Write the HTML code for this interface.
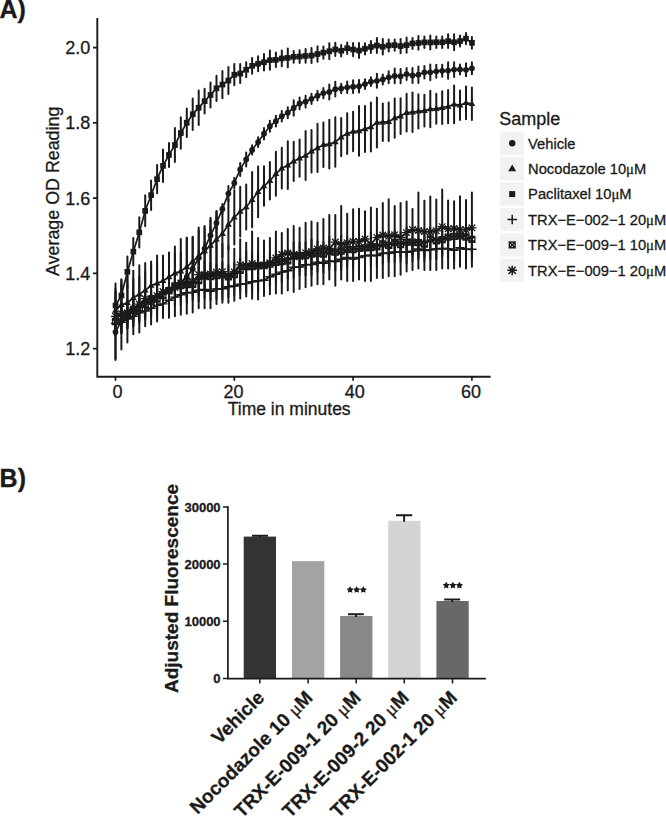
<!DOCTYPE html>
<html><head><meta charset="utf-8"><style>
html,body{margin:0;padding:0;background:#fff;}
svg{display:block;}
text{font-family:"Liberation Sans",sans-serif;fill:#1a1a1a;stroke:#1a1a1a;stroke-width:0.3px;}
.tk{font-size:18px;}
.ti{font-size:17.5px;}
.lt{font-size:18px;}
.lg{font-size:14.7px;}
.mu{font-family:"Liberation Serif",serif;}
.bmu{font-family:"Liberation Serif",serif;font-weight:normal;}
.pl{font-size:25px;font-weight:bold;}
.bt{font-size:13px;font-weight:bold;}
.bl{font-size:19px;font-weight:bold;}
.xl{font-size:19px;font-weight:bold;}
.st{font-size:14px;font-weight:bold;}
</style></head><body>
<svg width="666" height="817" viewBox="0 0 666 817">
<rect width="666" height="817" fill="#fff"/>
<text x="-0.5" y="17.6" class="pl">A)</text>
<text x="-0.4" y="486.6" class="pl">B)</text>
<path d="M97.3 18V377.7M96.4 376.8H490.6" stroke="#1a1a1a" stroke-width="1.9" fill="none"/>
<path d="M93 47.7H97M93 122.9H97M93 198.1H97M93 273.4H97M93 348.6H97" stroke="#1a1a1a" stroke-width="1.7" fill="none"/>
<text x="90.4" y="54.1" text-anchor="end" class="tk">2.0</text>
<text x="90.4" y="129.3" text-anchor="end" class="tk">1.8</text>
<text x="90.4" y="204.5" text-anchor="end" class="tk">1.6</text>
<text x="90.4" y="279.8" text-anchor="end" class="tk">1.4</text>
<text x="90.4" y="355" text-anchor="end" class="tk">1.2</text>
<path d="M115.5 377V380.8M234.3 377V380.8M353.1 377V380.8M471.9 377V380.8" stroke="#1a1a1a" stroke-width="1.7" fill="none"/>
<text x="117.4" y="397.6" text-anchor="middle" class="tk">0</text>
<text x="233.5" y="397.6" text-anchor="middle" class="tk">20</text>
<text x="354.7" y="397.6" text-anchor="middle" class="tk">40</text>
<text x="471" y="397.6" text-anchor="middle" class="tk">60</text>
<text x="289.2" y="414.7" text-anchor="middle" class="ti">Time in minutes</text>
<text transform="translate(59.1 191.3) rotate(-90)" text-anchor="middle" class="ti" style="font-size:17.85px">Average OD Reading</text>
<path d="M115.5 314.1V332.9M121.4 312.5V332.2M127.4 309.7V328.4M133.3 305.9V326.5M139.3 303.1V322.7M145.2 302.9V319.2M151.1 299.4V317M157.1 294.1V316.7M163 294.7V313.1M169 290.2V310.3M174.9 288.9V305.3M180.8 284.7V304.9M186.8 282.6V302.9M192.7 284.3V300.5M198.7 279.2V301.3M204.6 280.5V298.5M210.5 282.4V300M216.5 278.8V298.9M222.4 277.8V299.8M228.4 276V297.3M234.3 276.3V295.6M240.2 276.6V292M246.2 274.2V292.9M252.1 272V291.7M258.1 270.1V291.5M264 271.9V288.5M269.9 267.5V286.1M275.9 264.3V284.2M281.8 262V282.2M287.8 263.1V278.5M293.7 256.4V278M299.6 259.1V275M305.6 253.9V275.3M311.5 253.9V275.4M317.5 252.2V271.9M323.4 253.7V272.8M329.3 252.2V269.8M335.3 252.6V270.5M341.2 248.3V270.3M347.2 247.5V267.5M353.1 249.7V268.2M359 248.6V266.3M365 244.5V267M370.9 244.3V266.4M376.9 244.6V266.6M382.8 242.1V264.1M388.7 244.5V262.2M394.7 241.2V262.5M400.6 241.9V262.1M406.6 241.5V263.4M412.5 240.8V261.4M418.4 238.3V259.6M424.4 240V261.1M430.3 240V259.4M436.3 238.7V259M442.2 240.7V256.3M448.1 239.7V257.6M454.1 239.9V261M460 239.9V255.6M466 240.7V258.2M471.9 239.4V259.2" stroke="#1a1a1a" stroke-width="2.0" stroke-linecap="round" fill="none"/>
<path d="M115.5 307.4V335.5M121.4 303V333.3M127.4 302V328.1M133.3 295.6V325.6M139.3 296.1V321.6M145.2 291.5V317.8M151.1 289.1V313.6M157.1 287.5V310.6M163 280.4V310.9M169 276.8V304.3M174.9 274V297.9M180.8 272.2V298.9M186.8 271.8V297.2M192.7 273.6V295.1M198.7 266.5V294.9M204.6 260.9V291.1M210.5 262.9V290.4M216.5 264.4V287M222.4 262V287.5M228.4 265.2V288.4M234.3 263.1V286M240.2 258.2V282.4M246.2 251.5V282M252.1 251.7V281.7M258.1 251.2V280.6M264 249.9V280.7M269.9 253V275.2M275.9 250.7V274.1M281.8 250.9V272.5M287.8 250.3V271.4M293.7 242.2V270M299.6 242.6V268M305.6 242.1V269.1M311.5 239V269.2M317.5 241.3V265.4M323.4 242.4V266M329.3 236.6V266.3M335.3 241.5V262.8M341.2 235.6V266.4M347.2 236.9V261.6M353.1 238.9V260.4M359 236.7V260M365 236.9V258.8M370.9 232.6V262.6M376.9 236V257.7M382.8 233.1V254.7M388.7 231.6V259.1M394.7 230.9V254.1M400.6 232.3V256.9M406.6 227.5V256.8M412.5 229.4V255M418.4 228.3V257M424.4 232.2V256.3M430.3 227.6V250M436.3 230V251.8M442.2 224.6V254.5M448.1 226V248.4M454.1 225.5V247.4M460 224.5V247.2M466 223.7V250.3M471.9 225.2V253.5" stroke="#1a1a1a" stroke-width="2.0" stroke-linecap="round" fill="none"/>
<path d="M115.5 283.6V359.9M121.4 280.1V349.4M127.4 275.8V342.5M133.3 270.8V334.3M139.3 265.3V332.6M145.2 263.1V326.2M151.1 261.6V324.4M157.1 255.6V321.5M163 255.6V318M169 252.6V317.8M174.9 246.6V316.2M180.8 239.1V314.8M186.8 237.8V313.7M192.7 236.8V312.5M198.7 230.2V308.2M204.6 226V308.2M210.5 220V308.2M216.5 211.6V303.9M222.4 243.8V302.7M228.4 245.8V302.7M234.3 248.8V300.8M240.2 239.2V298.4M246.2 242.8V296.6M252.1 231.6V298.7M258.1 238V299.6M264 240.6V296M269.9 238V294.2M275.9 231.6V293.6M281.8 232.9V293.6M287.8 229.1V290.5M293.7 226V292M299.6 227.8V288.9M305.6 222.7V287.3M311.5 221.4V285.7M317.5 222.7V284.2M323.4 218.9V284.2M329.3 215V279.4M335.3 215V285.7M341.2 206.1V279.4M347.2 213.8V281M353.1 209.2V281M359 208.7V279.4M365 211.2V281M370.9 207.4V281M376.9 208.7V277.9M382.8 203.1V277.9M388.7 199.3V276.2M394.7 206.1V276.2M400.6 203.1V274.7M406.6 201.6V271.5M412.5 209.1V270M418.4 192.6V268.4M424.4 200.8V270M430.3 196.6V270M436.3 199.6V270M442.2 189.6V268.4M448.1 200.4V268.4M454.1 201.3V268.4M460 196.3V266.8M466 200.1V268.4M471.9 192.6V266.8" stroke="#1a1a1a" stroke-width="2.0" stroke-linecap="round" fill="none"/>
<path d="M115.5 291.7V329.3M121.4 284.7V325.2M127.4 284.9V320.7M133.3 278.4V317.2M139.3 276.9V311.6M145.2 271.9V308.9M151.1 264.6V306.6M157.1 263.1V303.4M163 262.7V298.7M169 259.5V294.6M174.9 253.9V292.6M180.8 252.4V289.8M186.8 237.7V296.3M192.7 237.3V285.3M198.7 227.6V285.2M204.6 227.4V274.5M210.5 217.7V273.5M216.5 210.9V267.7M222.4 210.6V256.9M228.4 199.3V249.6M234.3 190.2V244.6M240.2 186.7V236.5M246.2 184.5V229.6M252.1 172V227.3M258.1 166.4V217.3M264 166.3V205.8M269.9 161.9V199.6M275.9 151.8V195.7M281.8 147.7V188.6M287.8 141.3V189M293.7 141.7V180.9M299.6 139.5V176.8M305.6 131.1V180.1M311.5 130V172.6M317.5 123.8V172.1M323.4 122.6V167.1M329.3 119.8V168.4M335.3 117.3V166.7M341.2 118.1V156.2M347.2 113.2V153.9M353.1 111.8V151.3M359 106.1V155.7M365 105.9V152M370.9 102.4V151.6M376.9 97.5V147.5M382.8 103.4V141M388.7 102.5V141M394.7 98.5V137.7M400.6 98.3V134M406.6 93.7V131.6M412.5 92.5V132M418.4 94.2V128.5M424.4 94.8V126.5M430.3 90.8V127.2M436.3 93.8V123.7M442.2 91.3V123.9M448.1 89.9V123.2M454.1 85.5V123.2M460 90.4V120.1M466 86.5V119.2M471.9 87.5V120.1" stroke="#1a1a1a" stroke-width="2.0" stroke-linecap="round" fill="none"/>
<path d="M115.5 305.7V358.4M121.4 308.1V333.5M127.4 299.9V325.9M133.3 293.5V322.3M139.3 298.4V313M145.2 296.7V307.1M151.1 291.5V303.3M157.1 289.9V301.7M163 286.4V298.4M169 283.4V295M174.9 279.2V293.4M180.8 277.2V287M186.8 270.9V283M192.7 264.2V273.5M198.7 250.4V265.1M204.6 242.8V254.3M210.5 227.6V243.2M216.5 216.4V229.6M222.4 204.1V214M228.4 186.1V201.2M234.3 177.7V188.3M240.2 162.9V176M246.2 152.5V166.5M252.1 145.3V154.4M258.1 137.2V147M264 128V139.5M269.9 120.7V131.7M275.9 115.8V126.5M281.8 111V121.4M287.8 107.2V118.2M293.7 100.3V115.8M299.6 97.5V109.3M305.6 95.8V107.5M311.5 93.7V103.9M317.5 90.8V100.6M323.4 88V98.2M329.3 84.6V99.5M335.3 81.8V96.6M341.2 83.7V93.3M347.2 81.6V92.9M353.1 80.3V93M359 80V92.4M365 79.2V89M370.9 77.3V86.1M376.9 73.7V87.8M382.8 74.6V84.5M388.7 71.3V83.3M394.7 68.5V83.3M400.6 69.1V83.3M406.6 68.1V80.1M412.5 67.9V83M418.4 66.4V82.9M424.4 66V78.6M430.3 64.5V80.2M436.3 64.8V77.8M442.2 64.8V76.8M448.1 62.3V78.8M454.1 62.2V77M460 64.4V74.4M466 63.2V76.3M471.9 62.3V74.2" stroke="#1a1a1a" stroke-width="2.0" stroke-linecap="round" fill="none"/>
<path d="M115.5 288.9V322.1M121.4 279.3V311.5M127.4 256.5V287.2M133.3 237.9V265.5M139.3 217.2V247.6M145.2 195.3V226.3M151.1 180.4V210M157.1 165V193.2M163 149.6V182.1M169 142.9V167M174.9 128.1V162M180.8 117.3V148.8M186.8 108.6V137M192.7 98.4V130M198.7 90.5V125M204.6 88.8V113.6M210.5 82.5V107.4M216.5 75.7V100.9M222.4 71V98.2M228.4 67.1V94M234.3 64.1V85.3M240.2 64.1V82.9M246.2 62.2V77.3M252.1 58.1V73.7M258.1 56.3V71.2M264 54.1V70.4M269.9 50.4V69.8M275.9 52.6V67.1M281.8 50.6V66.3M287.8 48.5V67.2M293.7 51.1V62.7M299.6 50.2V62.9M305.6 49V62.8M311.5 48V63M317.5 46.3V61.8M323.4 46.5V58.8M329.3 43.2V59.2M335.3 42.8V56M341.2 45V56.5M347.2 42.4V54.1M353.1 43V56.2M359 42.9V58.1M365 43.2V54.4M370.9 41V53M376.9 37.9V53.1M382.8 39.1V54.4M388.7 39.5V51.5M394.7 39.6V50.8M400.6 38.9V53.2M406.6 37.6V52.8M412.5 37.9V49M418.4 36.1V49.8M424.4 36.5V48.1M430.3 35.4V49.5M436.3 36.5V48M442.2 36.5V48M448.1 34.3V48M454.1 34.3V50.2M460 35.5V46.5M466 33V44.3M471.9 36.9V48.8" stroke="#1a1a1a" stroke-width="2.0" stroke-linecap="round" fill="none"/>
<path d="M115.5 323.5 L121.4 322.4 L127.4 319 L133.3 316.2 L139.3 312.9 L145.2 311 L151.1 308.2 L157.1 305.4 L163 303.9 L169 300.3 L174.9 297.1 L180.8 294.8 L186.8 292.8 L192.7 292.4 L198.7 290.2 L204.6 289.5 L210.5 291.2 L216.5 288.9 L222.4 288.8 L228.4 286.7 L234.3 286 L240.2 284.3 L246.2 283.6 L252.1 281.8 L258.1 280.8 L264 280.2 L269.9 276.8 L275.9 274.3 L281.8 272.1 L287.8 270.8 L293.7 267.2 L299.6 267.1 L305.6 264.6 L311.5 264.6 L317.5 262.1 L323.4 263.3 L329.3 261 L335.3 261.6 L341.2 259.3 L347.2 257.5 L353.1 259 L359 257.5 L365 255.7 L370.9 255.3 L376.9 255.6 L382.8 253.1 L388.7 253.3 L394.7 251.9 L400.6 252 L406.6 252.4 L412.5 251.1 L418.4 249 L424.4 250.5 L430.3 249.7 L436.3 248.9 L442.2 248.5 L448.1 248.7 L454.1 250.4 L460 247.7 L466 249.4 L471.9 249.3" stroke="#1a1a1a" stroke-width="1.7" fill="none" stroke-linejoin="round"/>
<path d="M115.5 321.5 L121.4 318.2 L127.4 315 L133.3 310.6 L139.3 308.9 L145.2 304.6 L151.1 301.4 L157.1 299.1 L163 295.7 L169 290.6 L174.9 285.9 L180.8 285.5 L186.8 284.5 L192.7 284.3 L198.7 280.7 L204.6 276 L210.5 276.6 L216.5 275.7 L222.4 274.8 L228.4 276.8 L234.3 274.6 L240.2 270.3 L246.2 266.7 L252.1 266.7 L258.1 265.9 L264 265.3 L269.9 264.1 L275.9 262.4 L281.8 261.7 L287.8 260.8 L293.7 256.1 L299.6 255.3 L305.6 255.6 L311.5 254.1 L317.5 253.4 L323.4 254.2 L329.3 251.5 L335.3 252.1 L341.2 251 L347.2 249.3 L353.1 249.6 L359 248.3 L365 247.9 L370.9 247.6 L376.9 246.8 L382.8 243.9 L388.7 245.4 L394.7 242.5 L400.6 244.6 L406.6 242.1 L412.5 242.2 L418.4 242.7 L424.4 244.2 L430.3 238.8 L436.3 240.9 L442.2 239.6 L448.1 237.2 L454.1 236.4 L460 235.8 L466 237 L471.9 239.3" stroke="#1a1a1a" stroke-width="1.7" fill="none" stroke-linejoin="round"/>
<path d="M115.5 316.3 L121.4 313.7 L127.4 312.7 L133.3 309.3 L139.3 304.1 L145.2 298.7 L151.1 299.5 L157.1 295.7 L163 291.6 L169 291 L174.9 287.5 L180.8 283 L186.8 281.7 L192.7 281.5 L198.7 274.6 L204.6 274.8 L210.5 274 L216.5 272.1 L222.4 271.7 L228.4 276.1 L234.3 272 L240.2 264.9 L246.2 265.7 L252.1 263.5 L258.1 265 L264 266 L269.9 262.8 L275.9 258 L281.8 254.7 L287.8 253 L293.7 254.5 L299.6 256.8 L305.6 252.7 L311.5 251.6 L317.5 249 L323.4 248 L329.3 248.5 L335.3 242.1 L341.2 244.5 L347.2 242.8 L353.1 241.7 L359 241.5 L365 239 L370.9 244 L376.9 237.7 L382.8 235 L388.7 236.3 L394.7 234.8 L400.6 237.4 L406.6 232.7 L412.5 229.6 L418.4 230.5 L424.4 231.5 L430.3 231.9 L436.3 230.8 L442.2 226.7 L448.1 228.8 L454.1 228.5 L460 229.5 L466 229.7 L471.9 227.8" stroke="#1a1a1a" stroke-width="1.7" fill="none" stroke-linejoin="round"/>
<path d="M115.5 310.5 L121.4 304.9 L127.4 302.8 L133.3 297.8 L139.3 294.3 L145.2 290.4 L151.1 285.6 L157.1 283.2 L163 280.7 L169 277 L174.9 273.2 L180.8 271.1 L186.8 267 L192.7 261.3 L198.7 256.4 L204.6 250.9 L210.5 245.6 L216.5 239.3 L222.4 233.7 L228.4 224.5 L234.3 217.4 L240.2 211.6 L246.2 207 L252.1 199.7 L258.1 191.9 L264 186.1 L269.9 180.8 L275.9 173.8 L281.8 168.2 L287.8 165.2 L293.7 161.3 L299.6 158.2 L305.6 155.6 L311.5 151.3 L317.5 148 L323.4 144.9 L329.3 144.1 L335.3 142 L341.2 137.1 L347.2 133.6 L353.1 131.5 L359 130.9 L365 128.9 L370.9 127 L376.9 122.5 L382.8 122.2 L388.7 121.7 L394.7 118.1 L400.6 116.1 L406.6 112.6 L412.5 112.2 L418.4 111.3 L424.4 110.6 L430.3 109 L436.3 108.7 L442.2 107.6 L448.1 106.5 L454.1 104.3 L460 105.2 L466 102.8 L471.9 103.8" stroke="#1a1a1a" stroke-width="1.7" fill="none" stroke-linejoin="round"/>
<path d="M115.5 332.1 L121.4 320.8 L127.4 312.9 L133.3 307.9 L139.3 305.7 L145.2 301.9 L151.1 297.4 L157.1 295.8 L163 292.4 L169 289.2 L174.9 286.3 L180.8 282.1 L186.8 276.9 L192.7 268.9 L198.7 257.8 L204.6 248.6 L210.5 235.4 L216.5 223 L222.4 209 L228.4 193.6 L234.3 183 L240.2 169.4 L246.2 159.5 L252.1 149.9 L258.1 142.1 L264 133.7 L269.9 126.2 L275.9 121.2 L281.8 116.2 L287.8 112.7 L293.7 108 L299.6 103.4 L305.6 101.7 L311.5 98.8 L317.5 95.7 L323.4 93.1 L329.3 92 L335.3 89.2 L341.2 88.5 L347.2 87.3 L353.1 86.7 L359 86.2 L365 84.1 L370.9 81.7 L376.9 80.8 L382.8 79.5 L388.7 77.3 L394.7 75.9 L400.6 76.2 L406.6 74.1 L412.5 75.4 L418.4 74.7 L424.4 72.3 L430.3 72.3 L436.3 71.3 L442.2 70.8 L448.1 70.6 L454.1 69.6 L460 69.4 L466 69.8 L471.9 68.3" stroke="#1a1a1a" stroke-width="1.7" fill="none" stroke-linejoin="round"/>
<path d="M115.5 305.5 L121.4 295.4 L127.4 271.9 L133.3 251.7 L139.3 232.4 L145.2 210.8 L151.1 195.2 L157.1 179.1 L163 165.9 L169 154.9 L174.9 145 L180.8 133.1 L186.8 122.8 L192.7 114.2 L198.7 107.7 L204.6 101.2 L210.5 94.9 L216.5 88.3 L222.4 84.6 L228.4 80.6 L234.3 74.7 L240.2 73.5 L246.2 69.7 L252.1 65.9 L258.1 63.8 L264 62.2 L269.9 60.1 L275.9 59.8 L281.8 58.4 L287.8 57.9 L293.7 56.9 L299.6 56.6 L305.6 55.9 L311.5 55.5 L317.5 54.1 L323.4 52.6 L329.3 51.2 L335.3 49.4 L341.2 50.7 L347.2 48.2 L353.1 49.6 L359 50.5 L365 48.8 L370.9 47 L376.9 45.5 L382.8 46.8 L388.7 45.5 L394.7 45.2 L400.6 46.1 L406.6 45.2 L412.5 43.4 L418.4 43 L424.4 42.3 L430.3 42.4 L436.3 42.3 L442.2 42.3 L448.1 41.1 L454.1 42.3 L460 41 L466 38.6 L471.9 42.9" stroke="#1a1a1a" stroke-width="1.7" fill="none" stroke-linejoin="round"/>
<g fill="#1a1a1a"><path d="M110.9 323.5h9.2M115.5 318.9v9.2" stroke="#1a1a1a" stroke-width="1.4" fill="none"/><path d="M116.8 322.4h9.2M121.4 317.8v9.2" stroke="#1a1a1a" stroke-width="1.4" fill="none"/><path d="M122.8 319h9.2M127.4 314.4v9.2" stroke="#1a1a1a" stroke-width="1.4" fill="none"/><path d="M128.7 316.2h9.2M133.3 311.6v9.2" stroke="#1a1a1a" stroke-width="1.4" fill="none"/><path d="M134.7 312.9h9.2M139.3 308.3v9.2" stroke="#1a1a1a" stroke-width="1.4" fill="none"/><path d="M140.6 311h9.2M145.2 306.4v9.2" stroke="#1a1a1a" stroke-width="1.4" fill="none"/><path d="M146.5 308.2h9.2M151.1 303.6v9.2" stroke="#1a1a1a" stroke-width="1.4" fill="none"/><path d="M152.5 305.4h9.2M157.1 300.8v9.2" stroke="#1a1a1a" stroke-width="1.4" fill="none"/><path d="M158.4 303.9h9.2M163 299.3v9.2" stroke="#1a1a1a" stroke-width="1.4" fill="none"/><path d="M164.4 300.3h9.2M169 295.7v9.2" stroke="#1a1a1a" stroke-width="1.4" fill="none"/><path d="M170.3 297.1h9.2M174.9 292.5v9.2" stroke="#1a1a1a" stroke-width="1.4" fill="none"/><path d="M176.2 294.8h9.2M180.8 290.2v9.2" stroke="#1a1a1a" stroke-width="1.4" fill="none"/><path d="M182.2 292.8h9.2M186.8 288.2v9.2" stroke="#1a1a1a" stroke-width="1.4" fill="none"/><path d="M188.1 292.4h9.2M192.7 287.8v9.2" stroke="#1a1a1a" stroke-width="1.4" fill="none"/><path d="M194.1 290.2h9.2M198.7 285.6v9.2" stroke="#1a1a1a" stroke-width="1.4" fill="none"/><path d="M200 289.5h9.2M204.6 284.9v9.2" stroke="#1a1a1a" stroke-width="1.4" fill="none"/><path d="M205.9 291.2h9.2M210.5 286.6v9.2" stroke="#1a1a1a" stroke-width="1.4" fill="none"/><path d="M211.9 288.9h9.2M216.5 284.3v9.2" stroke="#1a1a1a" stroke-width="1.4" fill="none"/><path d="M217.8 288.8h9.2M222.4 284.2v9.2" stroke="#1a1a1a" stroke-width="1.4" fill="none"/><path d="M223.8 286.7h9.2M228.4 282.1v9.2" stroke="#1a1a1a" stroke-width="1.4" fill="none"/><path d="M229.7 286h9.2M234.3 281.4v9.2" stroke="#1a1a1a" stroke-width="1.4" fill="none"/><path d="M235.6 284.3h9.2M240.2 279.7v9.2" stroke="#1a1a1a" stroke-width="1.4" fill="none"/><path d="M241.6 283.6h9.2M246.2 279v9.2" stroke="#1a1a1a" stroke-width="1.4" fill="none"/><path d="M247.5 281.8h9.2M252.1 277.2v9.2" stroke="#1a1a1a" stroke-width="1.4" fill="none"/><path d="M253.5 280.8h9.2M258.1 276.2v9.2" stroke="#1a1a1a" stroke-width="1.4" fill="none"/><path d="M259.4 280.2h9.2M264 275.6v9.2" stroke="#1a1a1a" stroke-width="1.4" fill="none"/><path d="M265.3 276.8h9.2M269.9 272.2v9.2" stroke="#1a1a1a" stroke-width="1.4" fill="none"/><path d="M271.3 274.3h9.2M275.9 269.7v9.2" stroke="#1a1a1a" stroke-width="1.4" fill="none"/><path d="M277.2 272.1h9.2M281.8 267.5v9.2" stroke="#1a1a1a" stroke-width="1.4" fill="none"/><path d="M283.2 270.8h9.2M287.8 266.2v9.2" stroke="#1a1a1a" stroke-width="1.4" fill="none"/><path d="M289.1 267.2h9.2M293.7 262.6v9.2" stroke="#1a1a1a" stroke-width="1.4" fill="none"/><path d="M295 267.1h9.2M299.6 262.5v9.2" stroke="#1a1a1a" stroke-width="1.4" fill="none"/><path d="M301 264.6h9.2M305.6 260v9.2" stroke="#1a1a1a" stroke-width="1.4" fill="none"/><path d="M306.9 264.6h9.2M311.5 260v9.2" stroke="#1a1a1a" stroke-width="1.4" fill="none"/><path d="M312.9 262.1h9.2M317.5 257.5v9.2" stroke="#1a1a1a" stroke-width="1.4" fill="none"/><path d="M318.8 263.3h9.2M323.4 258.7v9.2" stroke="#1a1a1a" stroke-width="1.4" fill="none"/><path d="M324.7 261h9.2M329.3 256.4v9.2" stroke="#1a1a1a" stroke-width="1.4" fill="none"/><path d="M330.7 261.6h9.2M335.3 257v9.2" stroke="#1a1a1a" stroke-width="1.4" fill="none"/><path d="M336.6 259.3h9.2M341.2 254.7v9.2" stroke="#1a1a1a" stroke-width="1.4" fill="none"/><path d="M342.6 257.5h9.2M347.2 252.9v9.2" stroke="#1a1a1a" stroke-width="1.4" fill="none"/><path d="M348.5 259h9.2M353.1 254.4v9.2" stroke="#1a1a1a" stroke-width="1.4" fill="none"/><path d="M354.4 257.5h9.2M359 252.9v9.2" stroke="#1a1a1a" stroke-width="1.4" fill="none"/><path d="M360.4 255.7h9.2M365 251.1v9.2" stroke="#1a1a1a" stroke-width="1.4" fill="none"/><path d="M366.3 255.3h9.2M370.9 250.7v9.2" stroke="#1a1a1a" stroke-width="1.4" fill="none"/><path d="M372.3 255.6h9.2M376.9 251v9.2" stroke="#1a1a1a" stroke-width="1.4" fill="none"/><path d="M378.2 253.1h9.2M382.8 248.5v9.2" stroke="#1a1a1a" stroke-width="1.4" fill="none"/><path d="M384.1 253.3h9.2M388.7 248.7v9.2" stroke="#1a1a1a" stroke-width="1.4" fill="none"/><path d="M390.1 251.9h9.2M394.7 247.3v9.2" stroke="#1a1a1a" stroke-width="1.4" fill="none"/><path d="M396 252h9.2M400.6 247.4v9.2" stroke="#1a1a1a" stroke-width="1.4" fill="none"/><path d="M402 252.4h9.2M406.6 247.8v9.2" stroke="#1a1a1a" stroke-width="1.4" fill="none"/><path d="M407.9 251.1h9.2M412.5 246.5v9.2" stroke="#1a1a1a" stroke-width="1.4" fill="none"/><path d="M413.8 249h9.2M418.4 244.4v9.2" stroke="#1a1a1a" stroke-width="1.4" fill="none"/><path d="M419.8 250.5h9.2M424.4 245.9v9.2" stroke="#1a1a1a" stroke-width="1.4" fill="none"/><path d="M425.7 249.7h9.2M430.3 245.1v9.2" stroke="#1a1a1a" stroke-width="1.4" fill="none"/><path d="M431.7 248.9h9.2M436.3 244.3v9.2" stroke="#1a1a1a" stroke-width="1.4" fill="none"/><path d="M437.6 248.5h9.2M442.2 243.9v9.2" stroke="#1a1a1a" stroke-width="1.4" fill="none"/><path d="M443.5 248.7h9.2M448.1 244.1v9.2" stroke="#1a1a1a" stroke-width="1.4" fill="none"/><path d="M449.5 250.4h9.2M454.1 245.8v9.2" stroke="#1a1a1a" stroke-width="1.4" fill="none"/><path d="M455.4 247.7h9.2M460 243.1v9.2" stroke="#1a1a1a" stroke-width="1.4" fill="none"/><path d="M461.4 249.4h9.2M466 244.8v9.2" stroke="#1a1a1a" stroke-width="1.4" fill="none"/><path d="M467.3 249.3h9.2M471.9 244.7v9.2" stroke="#1a1a1a" stroke-width="1.4" fill="none"/></g>
<g fill="#1a1a1a"><path d="M112.5 318.5h6v6h-6ZM112.5 318.5l6 6M118.5 318.5l-6 6" stroke="#1a1a1a" stroke-width="1.3" fill="none"/><path d="M118.4 315.2h6v6h-6ZM118.4 315.2l6 6M124.4 315.2l-6 6" stroke="#1a1a1a" stroke-width="1.3" fill="none"/><path d="M124.4 312h6v6h-6ZM124.4 312l6 6M130.4 312l-6 6" stroke="#1a1a1a" stroke-width="1.3" fill="none"/><path d="M130.3 307.6h6v6h-6ZM130.3 307.6l6 6M136.3 307.6l-6 6" stroke="#1a1a1a" stroke-width="1.3" fill="none"/><path d="M136.3 305.9h6v6h-6ZM136.3 305.9l6 6M142.3 305.9l-6 6" stroke="#1a1a1a" stroke-width="1.3" fill="none"/><path d="M142.2 301.6h6v6h-6ZM142.2 301.6l6 6M148.2 301.6l-6 6" stroke="#1a1a1a" stroke-width="1.3" fill="none"/><path d="M148.1 298.4h6v6h-6ZM148.1 298.4l6 6M154.1 298.4l-6 6" stroke="#1a1a1a" stroke-width="1.3" fill="none"/><path d="M154.1 296.1h6v6h-6ZM154.1 296.1l6 6M160.1 296.1l-6 6" stroke="#1a1a1a" stroke-width="1.3" fill="none"/><path d="M160 292.7h6v6h-6ZM160 292.7l6 6M166 292.7l-6 6" stroke="#1a1a1a" stroke-width="1.3" fill="none"/><path d="M166 287.6h6v6h-6ZM166 287.6l6 6M172 287.6l-6 6" stroke="#1a1a1a" stroke-width="1.3" fill="none"/><path d="M171.9 282.9h6v6h-6ZM171.9 282.9l6 6M177.9 282.9l-6 6" stroke="#1a1a1a" stroke-width="1.3" fill="none"/><path d="M177.8 282.5h6v6h-6ZM177.8 282.5l6 6M183.8 282.5l-6 6" stroke="#1a1a1a" stroke-width="1.3" fill="none"/><path d="M183.8 281.5h6v6h-6ZM183.8 281.5l6 6M189.8 281.5l-6 6" stroke="#1a1a1a" stroke-width="1.3" fill="none"/><path d="M189.7 281.3h6v6h-6ZM189.7 281.3l6 6M195.7 281.3l-6 6" stroke="#1a1a1a" stroke-width="1.3" fill="none"/><path d="M195.7 277.7h6v6h-6ZM195.7 277.7l6 6M201.7 277.7l-6 6" stroke="#1a1a1a" stroke-width="1.3" fill="none"/><path d="M201.6 273h6v6h-6ZM201.6 273l6 6M207.6 273l-6 6" stroke="#1a1a1a" stroke-width="1.3" fill="none"/><path d="M207.5 273.6h6v6h-6ZM207.5 273.6l6 6M213.5 273.6l-6 6" stroke="#1a1a1a" stroke-width="1.3" fill="none"/><path d="M213.5 272.7h6v6h-6ZM213.5 272.7l6 6M219.5 272.7l-6 6" stroke="#1a1a1a" stroke-width="1.3" fill="none"/><path d="M219.4 271.8h6v6h-6ZM219.4 271.8l6 6M225.4 271.8l-6 6" stroke="#1a1a1a" stroke-width="1.3" fill="none"/><path d="M225.4 273.8h6v6h-6ZM225.4 273.8l6 6M231.4 273.8l-6 6" stroke="#1a1a1a" stroke-width="1.3" fill="none"/><path d="M231.3 271.6h6v6h-6ZM231.3 271.6l6 6M237.3 271.6l-6 6" stroke="#1a1a1a" stroke-width="1.3" fill="none"/><path d="M237.2 267.3h6v6h-6ZM237.2 267.3l6 6M243.2 267.3l-6 6" stroke="#1a1a1a" stroke-width="1.3" fill="none"/><path d="M243.2 263.7h6v6h-6ZM243.2 263.7l6 6M249.2 263.7l-6 6" stroke="#1a1a1a" stroke-width="1.3" fill="none"/><path d="M249.1 263.7h6v6h-6ZM249.1 263.7l6 6M255.1 263.7l-6 6" stroke="#1a1a1a" stroke-width="1.3" fill="none"/><path d="M255.1 262.9h6v6h-6ZM255.1 262.9l6 6M261.1 262.9l-6 6" stroke="#1a1a1a" stroke-width="1.3" fill="none"/><path d="M261 262.3h6v6h-6ZM261 262.3l6 6M267 262.3l-6 6" stroke="#1a1a1a" stroke-width="1.3" fill="none"/><path d="M266.9 261.1h6v6h-6ZM266.9 261.1l6 6M272.9 261.1l-6 6" stroke="#1a1a1a" stroke-width="1.3" fill="none"/><path d="M272.9 259.4h6v6h-6ZM272.9 259.4l6 6M278.9 259.4l-6 6" stroke="#1a1a1a" stroke-width="1.3" fill="none"/><path d="M278.8 258.7h6v6h-6ZM278.8 258.7l6 6M284.8 258.7l-6 6" stroke="#1a1a1a" stroke-width="1.3" fill="none"/><path d="M284.8 257.8h6v6h-6ZM284.8 257.8l6 6M290.8 257.8l-6 6" stroke="#1a1a1a" stroke-width="1.3" fill="none"/><path d="M290.7 253.1h6v6h-6ZM290.7 253.1l6 6M296.7 253.1l-6 6" stroke="#1a1a1a" stroke-width="1.3" fill="none"/><path d="M296.6 252.3h6v6h-6ZM296.6 252.3l6 6M302.6 252.3l-6 6" stroke="#1a1a1a" stroke-width="1.3" fill="none"/><path d="M302.6 252.6h6v6h-6ZM302.6 252.6l6 6M308.6 252.6l-6 6" stroke="#1a1a1a" stroke-width="1.3" fill="none"/><path d="M308.5 251.1h6v6h-6ZM308.5 251.1l6 6M314.5 251.1l-6 6" stroke="#1a1a1a" stroke-width="1.3" fill="none"/><path d="M314.5 250.4h6v6h-6ZM314.5 250.4l6 6M320.5 250.4l-6 6" stroke="#1a1a1a" stroke-width="1.3" fill="none"/><path d="M320.4 251.2h6v6h-6ZM320.4 251.2l6 6M326.4 251.2l-6 6" stroke="#1a1a1a" stroke-width="1.3" fill="none"/><path d="M326.3 248.5h6v6h-6ZM326.3 248.5l6 6M332.3 248.5l-6 6" stroke="#1a1a1a" stroke-width="1.3" fill="none"/><path d="M332.3 249.1h6v6h-6ZM332.3 249.1l6 6M338.3 249.1l-6 6" stroke="#1a1a1a" stroke-width="1.3" fill="none"/><path d="M338.2 248h6v6h-6ZM338.2 248l6 6M344.2 248l-6 6" stroke="#1a1a1a" stroke-width="1.3" fill="none"/><path d="M344.2 246.3h6v6h-6ZM344.2 246.3l6 6M350.2 246.3l-6 6" stroke="#1a1a1a" stroke-width="1.3" fill="none"/><path d="M350.1 246.6h6v6h-6ZM350.1 246.6l6 6M356.1 246.6l-6 6" stroke="#1a1a1a" stroke-width="1.3" fill="none"/><path d="M356 245.3h6v6h-6ZM356 245.3l6 6M362 245.3l-6 6" stroke="#1a1a1a" stroke-width="1.3" fill="none"/><path d="M362 244.9h6v6h-6ZM362 244.9l6 6M368 244.9l-6 6" stroke="#1a1a1a" stroke-width="1.3" fill="none"/><path d="M367.9 244.6h6v6h-6ZM367.9 244.6l6 6M373.9 244.6l-6 6" stroke="#1a1a1a" stroke-width="1.3" fill="none"/><path d="M373.9 243.8h6v6h-6ZM373.9 243.8l6 6M379.9 243.8l-6 6" stroke="#1a1a1a" stroke-width="1.3" fill="none"/><path d="M379.8 240.9h6v6h-6ZM379.8 240.9l6 6M385.8 240.9l-6 6" stroke="#1a1a1a" stroke-width="1.3" fill="none"/><path d="M385.7 242.4h6v6h-6ZM385.7 242.4l6 6M391.7 242.4l-6 6" stroke="#1a1a1a" stroke-width="1.3" fill="none"/><path d="M391.7 239.5h6v6h-6ZM391.7 239.5l6 6M397.7 239.5l-6 6" stroke="#1a1a1a" stroke-width="1.3" fill="none"/><path d="M397.6 241.6h6v6h-6ZM397.6 241.6l6 6M403.6 241.6l-6 6" stroke="#1a1a1a" stroke-width="1.3" fill="none"/><path d="M403.6 239.1h6v6h-6ZM403.6 239.1l6 6M409.6 239.1l-6 6" stroke="#1a1a1a" stroke-width="1.3" fill="none"/><path d="M409.5 239.2h6v6h-6ZM409.5 239.2l6 6M415.5 239.2l-6 6" stroke="#1a1a1a" stroke-width="1.3" fill="none"/><path d="M415.4 239.7h6v6h-6ZM415.4 239.7l6 6M421.4 239.7l-6 6" stroke="#1a1a1a" stroke-width="1.3" fill="none"/><path d="M421.4 241.2h6v6h-6ZM421.4 241.2l6 6M427.4 241.2l-6 6" stroke="#1a1a1a" stroke-width="1.3" fill="none"/><path d="M427.3 235.8h6v6h-6ZM427.3 235.8l6 6M433.3 235.8l-6 6" stroke="#1a1a1a" stroke-width="1.3" fill="none"/><path d="M433.3 237.9h6v6h-6ZM433.3 237.9l6 6M439.3 237.9l-6 6" stroke="#1a1a1a" stroke-width="1.3" fill="none"/><path d="M439.2 236.6h6v6h-6ZM439.2 236.6l6 6M445.2 236.6l-6 6" stroke="#1a1a1a" stroke-width="1.3" fill="none"/><path d="M445.1 234.2h6v6h-6ZM445.1 234.2l6 6M451.1 234.2l-6 6" stroke="#1a1a1a" stroke-width="1.3" fill="none"/><path d="M451.1 233.4h6v6h-6ZM451.1 233.4l6 6M457.1 233.4l-6 6" stroke="#1a1a1a" stroke-width="1.3" fill="none"/><path d="M457 232.8h6v6h-6ZM457 232.8l6 6M463 232.8l-6 6" stroke="#1a1a1a" stroke-width="1.3" fill="none"/><path d="M463 234h6v6h-6ZM463 234l6 6M469 234l-6 6" stroke="#1a1a1a" stroke-width="1.3" fill="none"/><path d="M468.9 236.3h6v6h-6ZM468.9 236.3l6 6M474.9 236.3l-6 6" stroke="#1a1a1a" stroke-width="1.3" fill="none"/></g>
<g fill="#1a1a1a"><path d="M110.9 316.3h9.2M115.5 311.7v9.2M112.2 313l6.6 6.6M118.8 313l-6.6 6.6" stroke="#1a1a1a" stroke-width="1.3" fill="none"/><path d="M116.8 313.7h9.2M121.4 309.1v9.2M118.1 310.3l6.6 6.6M124.8 310.3l-6.6 6.6" stroke="#1a1a1a" stroke-width="1.3" fill="none"/><path d="M122.8 312.7h9.2M127.4 308.1v9.2M124.1 309.4l6.6 6.6M130.7 309.4l-6.6 6.6" stroke="#1a1a1a" stroke-width="1.3" fill="none"/><path d="M128.7 309.3h9.2M133.3 304.7v9.2M130 306l6.6 6.6M136.6 306l-6.6 6.6" stroke="#1a1a1a" stroke-width="1.3" fill="none"/><path d="M134.7 304.1h9.2M139.3 299.5v9.2M135.9 300.8l6.6 6.6M142.6 300.8l-6.6 6.6" stroke="#1a1a1a" stroke-width="1.3" fill="none"/><path d="M140.6 298.7h9.2M145.2 294.1v9.2M141.9 295.4l6.6 6.6M148.5 295.4l-6.6 6.6" stroke="#1a1a1a" stroke-width="1.3" fill="none"/><path d="M146.5 299.5h9.2M151.1 294.9v9.2M147.8 296.2l6.6 6.6M154.5 296.2l-6.6 6.6" stroke="#1a1a1a" stroke-width="1.3" fill="none"/><path d="M152.5 295.7h9.2M157.1 291.1v9.2M153.8 292.4l6.6 6.6M160.4 292.4l-6.6 6.6" stroke="#1a1a1a" stroke-width="1.3" fill="none"/><path d="M158.4 291.6h9.2M163 287v9.2M159.7 288.3l6.6 6.6M166.3 288.3l-6.6 6.6" stroke="#1a1a1a" stroke-width="1.3" fill="none"/><path d="M164.4 291h9.2M169 286.4v9.2M165.6 287.6l6.6 6.6M172.3 287.6l-6.6 6.6" stroke="#1a1a1a" stroke-width="1.3" fill="none"/><path d="M170.3 287.5h9.2M174.9 282.9v9.2M171.6 284.2l6.6 6.6M178.2 284.2l-6.6 6.6" stroke="#1a1a1a" stroke-width="1.3" fill="none"/><path d="M176.2 283h9.2M180.8 278.4v9.2M177.5 279.7l6.6 6.6M184.2 279.7l-6.6 6.6" stroke="#1a1a1a" stroke-width="1.3" fill="none"/><path d="M182.2 281.7h9.2M186.8 277.1v9.2M183.5 278.4l6.6 6.6M190.1 278.4l-6.6 6.6" stroke="#1a1a1a" stroke-width="1.3" fill="none"/><path d="M188.1 281.5h9.2M192.7 276.9v9.2M189.4 278.2l6.6 6.6M196 278.2l-6.6 6.6" stroke="#1a1a1a" stroke-width="1.3" fill="none"/><path d="M194.1 274.6h9.2M198.7 270v9.2M195.3 271.3l6.6 6.6M202 271.3l-6.6 6.6" stroke="#1a1a1a" stroke-width="1.3" fill="none"/><path d="M200 274.8h9.2M204.6 270.2v9.2M201.3 271.4l6.6 6.6M207.9 271.4l-6.6 6.6" stroke="#1a1a1a" stroke-width="1.3" fill="none"/><path d="M205.9 274h9.2M210.5 269.4v9.2M207.2 270.6l6.6 6.6M213.9 270.6l-6.6 6.6" stroke="#1a1a1a" stroke-width="1.3" fill="none"/><path d="M211.9 272.1h9.2M216.5 267.5v9.2M213.2 268.8l6.6 6.6M219.8 268.8l-6.6 6.6" stroke="#1a1a1a" stroke-width="1.3" fill="none"/><path d="M217.8 271.7h9.2M222.4 267.1v9.2M219.1 268.4l6.6 6.6M225.7 268.4l-6.6 6.6" stroke="#1a1a1a" stroke-width="1.3" fill="none"/><path d="M223.8 276.1h9.2M228.4 271.5v9.2M225 272.8l6.6 6.6M231.7 272.8l-6.6 6.6" stroke="#1a1a1a" stroke-width="1.3" fill="none"/><path d="M229.7 272h9.2M234.3 267.4v9.2M231 268.7l6.6 6.6M237.6 268.7l-6.6 6.6" stroke="#1a1a1a" stroke-width="1.3" fill="none"/><path d="M235.6 264.9h9.2M240.2 260.3v9.2M236.9 261.5l6.6 6.6M243.6 261.5l-6.6 6.6" stroke="#1a1a1a" stroke-width="1.3" fill="none"/><path d="M241.6 265.7h9.2M246.2 261.1v9.2M242.9 262.4l6.6 6.6M249.5 262.4l-6.6 6.6" stroke="#1a1a1a" stroke-width="1.3" fill="none"/><path d="M247.5 263.5h9.2M252.1 258.9v9.2M248.8 260.2l6.6 6.6M255.4 260.2l-6.6 6.6" stroke="#1a1a1a" stroke-width="1.3" fill="none"/><path d="M253.5 265h9.2M258.1 260.4v9.2M254.7 261.7l6.6 6.6M261.4 261.7l-6.6 6.6" stroke="#1a1a1a" stroke-width="1.3" fill="none"/><path d="M259.4 266h9.2M264 261.4v9.2M260.7 262.7l6.6 6.6M267.3 262.7l-6.6 6.6" stroke="#1a1a1a" stroke-width="1.3" fill="none"/><path d="M265.3 262.8h9.2M269.9 258.2v9.2M266.6 259.5l6.6 6.6M273.3 259.5l-6.6 6.6" stroke="#1a1a1a" stroke-width="1.3" fill="none"/><path d="M271.3 258h9.2M275.9 253.4v9.2M272.6 254.7l6.6 6.6M279.2 254.7l-6.6 6.6" stroke="#1a1a1a" stroke-width="1.3" fill="none"/><path d="M277.2 254.7h9.2M281.8 250.1v9.2M278.5 251.3l6.6 6.6M285.1 251.3l-6.6 6.6" stroke="#1a1a1a" stroke-width="1.3" fill="none"/><path d="M283.2 253h9.2M287.8 248.4v9.2M284.4 249.7l6.6 6.6M291.1 249.7l-6.6 6.6" stroke="#1a1a1a" stroke-width="1.3" fill="none"/><path d="M289.1 254.5h9.2M293.7 249.9v9.2M290.4 251.2l6.6 6.6M297 251.2l-6.6 6.6" stroke="#1a1a1a" stroke-width="1.3" fill="none"/><path d="M295 256.8h9.2M299.6 252.2v9.2M296.3 253.5l6.6 6.6M303 253.5l-6.6 6.6" stroke="#1a1a1a" stroke-width="1.3" fill="none"/><path d="M301 252.7h9.2M305.6 248.1v9.2M302.3 249.4l6.6 6.6M308.9 249.4l-6.6 6.6" stroke="#1a1a1a" stroke-width="1.3" fill="none"/><path d="M306.9 251.6h9.2M311.5 247v9.2M308.2 248.3l6.6 6.6M314.8 248.3l-6.6 6.6" stroke="#1a1a1a" stroke-width="1.3" fill="none"/><path d="M312.9 249h9.2M317.5 244.4v9.2M314.1 245.7l6.6 6.6M320.8 245.7l-6.6 6.6" stroke="#1a1a1a" stroke-width="1.3" fill="none"/><path d="M318.8 248h9.2M323.4 243.4v9.2M320.1 244.7l6.6 6.6M326.7 244.7l-6.6 6.6" stroke="#1a1a1a" stroke-width="1.3" fill="none"/><path d="M324.7 248.5h9.2M329.3 243.9v9.2M326 245.2l6.6 6.6M332.7 245.2l-6.6 6.6" stroke="#1a1a1a" stroke-width="1.3" fill="none"/><path d="M330.7 242.1h9.2M335.3 237.5v9.2M332 238.8l6.6 6.6M338.6 238.8l-6.6 6.6" stroke="#1a1a1a" stroke-width="1.3" fill="none"/><path d="M336.6 244.5h9.2M341.2 239.9v9.2M337.9 241.2l6.6 6.6M344.5 241.2l-6.6 6.6" stroke="#1a1a1a" stroke-width="1.3" fill="none"/><path d="M342.6 242.8h9.2M347.2 238.2v9.2M343.8 239.5l6.6 6.6M350.5 239.5l-6.6 6.6" stroke="#1a1a1a" stroke-width="1.3" fill="none"/><path d="M348.5 241.7h9.2M353.1 237.1v9.2M349.8 238.3l6.6 6.6M356.4 238.3l-6.6 6.6" stroke="#1a1a1a" stroke-width="1.3" fill="none"/><path d="M354.4 241.5h9.2M359 236.9v9.2M355.7 238.2l6.6 6.6M362.4 238.2l-6.6 6.6" stroke="#1a1a1a" stroke-width="1.3" fill="none"/><path d="M360.4 239h9.2M365 234.4v9.2M361.7 235.7l6.6 6.6M368.3 235.7l-6.6 6.6" stroke="#1a1a1a" stroke-width="1.3" fill="none"/><path d="M366.3 244h9.2M370.9 239.4v9.2M367.6 240.7l6.6 6.6M374.2 240.7l-6.6 6.6" stroke="#1a1a1a" stroke-width="1.3" fill="none"/><path d="M372.3 237.7h9.2M376.9 233.1v9.2M373.5 234.3l6.6 6.6M380.2 234.3l-6.6 6.6" stroke="#1a1a1a" stroke-width="1.3" fill="none"/><path d="M378.2 235h9.2M382.8 230.4v9.2M379.5 231.7l6.6 6.6M386.1 231.7l-6.6 6.6" stroke="#1a1a1a" stroke-width="1.3" fill="none"/><path d="M384.1 236.3h9.2M388.7 231.7v9.2M385.4 232.9l6.6 6.6M392.1 232.9l-6.6 6.6" stroke="#1a1a1a" stroke-width="1.3" fill="none"/><path d="M390.1 234.8h9.2M394.7 230.2v9.2M391.4 231.5l6.6 6.6M398 231.5l-6.6 6.6" stroke="#1a1a1a" stroke-width="1.3" fill="none"/><path d="M396 237.4h9.2M400.6 232.8v9.2M397.3 234.1l6.6 6.6M403.9 234.1l-6.6 6.6" stroke="#1a1a1a" stroke-width="1.3" fill="none"/><path d="M402 232.7h9.2M406.6 228.1v9.2M403.2 229.4l6.6 6.6M409.9 229.4l-6.6 6.6" stroke="#1a1a1a" stroke-width="1.3" fill="none"/><path d="M407.9 229.6h9.2M412.5 225v9.2M409.2 226.3l6.6 6.6M415.8 226.3l-6.6 6.6" stroke="#1a1a1a" stroke-width="1.3" fill="none"/><path d="M413.8 230.5h9.2M418.4 225.9v9.2M415.1 227.2l6.6 6.6M421.8 227.2l-6.6 6.6" stroke="#1a1a1a" stroke-width="1.3" fill="none"/><path d="M419.8 231.5h9.2M424.4 226.9v9.2M421.1 228.2l6.6 6.6M427.7 228.2l-6.6 6.6" stroke="#1a1a1a" stroke-width="1.3" fill="none"/><path d="M425.7 231.9h9.2M430.3 227.3v9.2M427 228.6l6.6 6.6M433.6 228.6l-6.6 6.6" stroke="#1a1a1a" stroke-width="1.3" fill="none"/><path d="M431.7 230.8h9.2M436.3 226.2v9.2M432.9 227.5l6.6 6.6M439.6 227.5l-6.6 6.6" stroke="#1a1a1a" stroke-width="1.3" fill="none"/><path d="M437.6 226.7h9.2M442.2 222.1v9.2M438.9 223.4l6.6 6.6M445.5 223.4l-6.6 6.6" stroke="#1a1a1a" stroke-width="1.3" fill="none"/><path d="M443.5 228.8h9.2M448.1 224.2v9.2M444.8 225.4l6.6 6.6M451.5 225.4l-6.6 6.6" stroke="#1a1a1a" stroke-width="1.3" fill="none"/><path d="M449.5 228.5h9.2M454.1 223.9v9.2M450.8 225.2l6.6 6.6M457.4 225.2l-6.6 6.6" stroke="#1a1a1a" stroke-width="1.3" fill="none"/><path d="M455.4 229.5h9.2M460 224.9v9.2M456.7 226.2l6.6 6.6M463.3 226.2l-6.6 6.6" stroke="#1a1a1a" stroke-width="1.3" fill="none"/><path d="M461.4 229.7h9.2M466 225.1v9.2M462.6 226.4l6.6 6.6M469.3 226.4l-6.6 6.6" stroke="#1a1a1a" stroke-width="1.3" fill="none"/><path d="M467.3 227.8h9.2M471.9 223.2v9.2M468.6 224.5l6.6 6.6M475.2 224.5l-6.6 6.6" stroke="#1a1a1a" stroke-width="1.3" fill="none"/></g>
<g fill="#1a1a1a"><path d="M115.5 306.8L118.9 312.7L112.1 312.7Z"/><path d="M121.4 301.3L124.8 307.1L118 307.1Z"/><path d="M127.4 299.2L130.8 305L124 305Z"/><path d="M133.3 294.2L136.7 300L129.9 300Z"/><path d="M139.3 290.6L142.7 296.5L135.9 296.5Z"/><path d="M145.2 286.7L148.6 292.6L141.8 292.6Z"/><path d="M151.1 281.9L154.5 287.8L147.7 287.8Z"/><path d="M157.1 279.6L160.5 285.5L153.7 285.5Z"/><path d="M163 277L166.4 282.9L159.6 282.9Z"/><path d="M169 273.4L172.4 279.3L165.6 279.3Z"/><path d="M174.9 269.6L178.3 275.5L171.5 275.5Z"/><path d="M180.8 267.5L184.2 273.4L177.4 273.4Z"/><path d="M186.8 263.3L190.2 269.2L183.4 269.2Z"/><path d="M192.7 257.7L196.1 263.5L189.3 263.5Z"/><path d="M198.7 252.7L202.1 258.6L195.3 258.6Z"/><path d="M204.6 247.3L208 253.2L201.2 253.2Z"/><path d="M210.5 241.9L213.9 247.8L207.1 247.8Z"/><path d="M216.5 235.7L219.9 241.5L213.1 241.5Z"/><path d="M222.4 230.1L225.8 236L219 236Z"/><path d="M228.4 220.8L231.8 226.7L225 226.7Z"/><path d="M234.3 213.7L237.7 219.6L230.9 219.6Z"/><path d="M240.2 208L243.6 213.8L236.8 213.8Z"/><path d="M246.2 203.4L249.6 209.3L242.8 209.3Z"/><path d="M252.1 196L255.5 201.9L248.7 201.9Z"/><path d="M258.1 188.2L261.5 194.1L254.7 194.1Z"/><path d="M264 182.4L267.4 188.3L260.6 188.3Z"/><path d="M269.9 177.1L273.3 183L266.5 183Z"/><path d="M275.9 170.1L279.3 176L272.5 176Z"/><path d="M281.8 164.5L285.2 170.4L278.4 170.4Z"/><path d="M287.8 161.5L291.2 167.4L284.4 167.4Z"/><path d="M293.7 157.7L297.1 163.6L290.3 163.6Z"/><path d="M299.6 154.5L303 160.4L296.2 160.4Z"/><path d="M305.6 151.9L309 157.8L302.2 157.8Z"/><path d="M311.5 147.6L314.9 153.5L308.1 153.5Z"/><path d="M317.5 144.3L320.9 150.2L314.1 150.2Z"/><path d="M323.4 141.2L326.8 147.1L320 147.1Z"/><path d="M329.3 140.4L332.7 146.3L325.9 146.3Z"/><path d="M335.3 138.4L338.7 144.3L331.9 144.3Z"/><path d="M341.2 133.5L344.6 139.4L337.8 139.4Z"/><path d="M347.2 129.9L350.6 135.8L343.8 135.8Z"/><path d="M353.1 127.9L356.5 133.8L349.7 133.8Z"/><path d="M359 127.3L362.4 133.2L355.6 133.2Z"/><path d="M365 125.3L368.4 131.2L361.6 131.2Z"/><path d="M370.9 123.4L374.3 129.3L367.5 129.3Z"/><path d="M376.9 118.9L380.3 124.8L373.5 124.8Z"/><path d="M382.8 118.5L386.2 124.4L379.4 124.4Z"/><path d="M388.7 118.1L392.1 124L385.3 124Z"/><path d="M394.7 114.4L398.1 120.3L391.3 120.3Z"/><path d="M400.6 112.5L404 118.4L397.2 118.4Z"/><path d="M406.6 109L410 114.9L403.2 114.9Z"/><path d="M412.5 108.6L415.9 114.5L409.1 114.5Z"/><path d="M418.4 107.7L421.8 113.6L415 113.6Z"/><path d="M424.4 107L427.8 112.9L421 112.9Z"/><path d="M430.3 105.4L433.7 111.2L426.9 111.2Z"/><path d="M436.3 105.1L439.7 111L432.9 111Z"/><path d="M442.2 104L445.6 109.9L438.8 109.9Z"/><path d="M448.1 102.9L451.5 108.8L444.7 108.8Z"/><path d="M454.1 100.7L457.5 106.6L450.7 106.6Z"/><path d="M460 101.6L463.4 107.5L456.6 107.5Z"/><path d="M466 99.2L469.4 105.1L462.6 105.1Z"/><path d="M471.9 100.2L475.3 106.1L468.5 106.1Z"/></g>
<g fill="#1a1a1a"><circle cx="115.5" cy="332.1" r="2.9"/><circle cx="121.4" cy="320.8" r="2.9"/><circle cx="127.4" cy="312.9" r="2.9"/><circle cx="133.3" cy="307.9" r="2.9"/><circle cx="139.3" cy="305.7" r="2.9"/><circle cx="145.2" cy="301.9" r="2.9"/><circle cx="151.1" cy="297.4" r="2.9"/><circle cx="157.1" cy="295.8" r="2.9"/><circle cx="163" cy="292.4" r="2.9"/><circle cx="169" cy="289.2" r="2.9"/><circle cx="174.9" cy="286.3" r="2.9"/><circle cx="180.8" cy="282.1" r="2.9"/><circle cx="186.8" cy="276.9" r="2.9"/><circle cx="192.7" cy="268.9" r="2.9"/><circle cx="198.7" cy="257.8" r="2.9"/><circle cx="204.6" cy="248.6" r="2.9"/><circle cx="210.5" cy="235.4" r="2.9"/><circle cx="216.5" cy="223" r="2.9"/><circle cx="222.4" cy="209" r="2.9"/><circle cx="228.4" cy="193.6" r="2.9"/><circle cx="234.3" cy="183" r="2.9"/><circle cx="240.2" cy="169.4" r="2.9"/><circle cx="246.2" cy="159.5" r="2.9"/><circle cx="252.1" cy="149.9" r="2.9"/><circle cx="258.1" cy="142.1" r="2.9"/><circle cx="264" cy="133.7" r="2.9"/><circle cx="269.9" cy="126.2" r="2.9"/><circle cx="275.9" cy="121.2" r="2.9"/><circle cx="281.8" cy="116.2" r="2.9"/><circle cx="287.8" cy="112.7" r="2.9"/><circle cx="293.7" cy="108" r="2.9"/><circle cx="299.6" cy="103.4" r="2.9"/><circle cx="305.6" cy="101.7" r="2.9"/><circle cx="311.5" cy="98.8" r="2.9"/><circle cx="317.5" cy="95.7" r="2.9"/><circle cx="323.4" cy="93.1" r="2.9"/><circle cx="329.3" cy="92" r="2.9"/><circle cx="335.3" cy="89.2" r="2.9"/><circle cx="341.2" cy="88.5" r="2.9"/><circle cx="347.2" cy="87.3" r="2.9"/><circle cx="353.1" cy="86.7" r="2.9"/><circle cx="359" cy="86.2" r="2.9"/><circle cx="365" cy="84.1" r="2.9"/><circle cx="370.9" cy="81.7" r="2.9"/><circle cx="376.9" cy="80.8" r="2.9"/><circle cx="382.8" cy="79.5" r="2.9"/><circle cx="388.7" cy="77.3" r="2.9"/><circle cx="394.7" cy="75.9" r="2.9"/><circle cx="400.6" cy="76.2" r="2.9"/><circle cx="406.6" cy="74.1" r="2.9"/><circle cx="412.5" cy="75.4" r="2.9"/><circle cx="418.4" cy="74.7" r="2.9"/><circle cx="424.4" cy="72.3" r="2.9"/><circle cx="430.3" cy="72.3" r="2.9"/><circle cx="436.3" cy="71.3" r="2.9"/><circle cx="442.2" cy="70.8" r="2.9"/><circle cx="448.1" cy="70.6" r="2.9"/><circle cx="454.1" cy="69.6" r="2.9"/><circle cx="460" cy="69.4" r="2.9"/><circle cx="466" cy="69.8" r="2.9"/><circle cx="471.9" cy="68.3" r="2.9"/></g>
<g fill="#1a1a1a"><rect x="112.7" y="302.7" width="5.7" height="5.7"/><rect x="118.6" y="292.6" width="5.7" height="5.7"/><rect x="124.5" y="269" width="5.7" height="5.7"/><rect x="130.5" y="248.8" width="5.7" height="5.7"/><rect x="136.4" y="229.5" width="5.7" height="5.7"/><rect x="142.3" y="208" width="5.7" height="5.7"/><rect x="148.3" y="192.3" width="5.7" height="5.7"/><rect x="154.2" y="176.3" width="5.7" height="5.7"/><rect x="160.2" y="163" width="5.7" height="5.7"/><rect x="166.1" y="152.1" width="5.7" height="5.7"/><rect x="172.1" y="142.2" width="5.7" height="5.7"/><rect x="178" y="130.2" width="5.7" height="5.7"/><rect x="183.9" y="119.9" width="5.7" height="5.7"/><rect x="189.9" y="111.4" width="5.7" height="5.7"/><rect x="195.8" y="104.9" width="5.7" height="5.7"/><rect x="201.8" y="98.3" width="5.7" height="5.7"/><rect x="207.7" y="92.1" width="5.7" height="5.7"/><rect x="213.6" y="85.4" width="5.7" height="5.7"/><rect x="219.6" y="81.7" width="5.7" height="5.7"/><rect x="225.5" y="77.7" width="5.7" height="5.7"/><rect x="231.5" y="71.9" width="5.7" height="5.7"/><rect x="237.4" y="70.7" width="5.7" height="5.7"/><rect x="243.3" y="66.9" width="5.7" height="5.7"/><rect x="249.3" y="63" width="5.7" height="5.7"/><rect x="255.2" y="60.9" width="5.7" height="5.7"/><rect x="261.1" y="59.4" width="5.7" height="5.7"/><rect x="267.1" y="57.3" width="5.7" height="5.7"/><rect x="273" y="57" width="5.7" height="5.7"/><rect x="279" y="55.6" width="5.7" height="5.7"/><rect x="284.9" y="55" width="5.7" height="5.7"/><rect x="290.9" y="54" width="5.7" height="5.7"/><rect x="296.8" y="53.7" width="5.7" height="5.7"/><rect x="302.7" y="53.1" width="5.7" height="5.7"/><rect x="308.7" y="52.7" width="5.7" height="5.7"/><rect x="314.6" y="51.2" width="5.7" height="5.7"/><rect x="320.5" y="49.8" width="5.7" height="5.7"/><rect x="326.5" y="48.4" width="5.7" height="5.7"/><rect x="332.4" y="46.6" width="5.7" height="5.7"/><rect x="338.4" y="47.9" width="5.7" height="5.7"/><rect x="344.3" y="45.4" width="5.7" height="5.7"/><rect x="350.2" y="46.7" width="5.7" height="5.7"/><rect x="356.2" y="47.7" width="5.7" height="5.7"/><rect x="362.1" y="45.9" width="5.7" height="5.7"/><rect x="368.1" y="44.1" width="5.7" height="5.7"/><rect x="374" y="42.7" width="5.7" height="5.7"/><rect x="379.9" y="43.9" width="5.7" height="5.7"/><rect x="385.9" y="42.6" width="5.7" height="5.7"/><rect x="391.8" y="42.3" width="5.7" height="5.7"/><rect x="397.8" y="43.2" width="5.7" height="5.7"/><rect x="403.7" y="42.3" width="5.7" height="5.7"/><rect x="409.6" y="40.6" width="5.7" height="5.7"/><rect x="415.6" y="40.1" width="5.7" height="5.7"/><rect x="421.5" y="39.5" width="5.7" height="5.7"/><rect x="427.5" y="39.6" width="5.7" height="5.7"/><rect x="433.4" y="39.4" width="5.7" height="5.7"/><rect x="439.4" y="39.4" width="5.7" height="5.7"/><rect x="445.3" y="38.3" width="5.7" height="5.7"/><rect x="451.2" y="39.4" width="5.7" height="5.7"/><rect x="457.2" y="38.2" width="5.7" height="5.7"/><rect x="463.1" y="35.8" width="5.7" height="5.7"/><rect x="469.1" y="40" width="5.7" height="5.7"/></g>
<text x="499.3" y="125" class="lt">Sample</text>
<rect x="500.3" y="131.7" width="23.7" height="23.1" fill="#f2f2f2"/>
<g fill="#1a1a1a"><circle cx="512.2" cy="143.3" r="3.2"/></g>
<text x="528.1" y="148.6" class="lg">Vehicle</text>
<rect x="500.3" y="157.1" width="23.7" height="23.1" fill="#f2f2f2"/>
<g fill="#1a1a1a"><path d="M512.2 164.4L516.2 171.3L508.2 171.3Z"/></g>
<text x="528.1" y="174" class="lg">Nocodazole 10<tspan class="mu">μ</tspan>M</text>
<rect x="500.3" y="182.5" width="23.7" height="23.1" fill="#f2f2f2"/>
<g fill="#1a1a1a"><rect x="509.2" y="191.1" width="6" height="6"/></g>
<text x="528.1" y="199.4" class="lg">Paclitaxel 10<tspan class="mu">μ</tspan>M</text>
<rect x="500.3" y="207.9" width="23.7" height="23.1" fill="#f2f2f2"/>
<g fill="#1a1a1a"><path d="M507.4 219.5h9.6M512.2 214.7v9.6" stroke="#1a1a1a" stroke-width="1.5" fill="none"/></g>
<text x="528.1" y="224.8" class="lg">TRX−E−002−1 20<tspan class="mu">μ</tspan>M</text>
<rect x="500.3" y="233.3" width="23.7" height="23.1" fill="#f2f2f2"/>
<g fill="#1a1a1a"><path d="M509.3 242h5.8v5.8h-5.8ZM509.3 242l5.8 5.8M515.1 242l-5.8 5.8" stroke="#1a1a1a" stroke-width="1.4" fill="none"/></g>
<text x="528.1" y="250.2" class="lg">TRX−E−009−1 10<tspan class="mu">μ</tspan>M</text>
<rect x="500.3" y="258.7" width="23.7" height="23.1" fill="#f2f2f2"/>
<g fill="#1a1a1a"><path d="M507.3 270.3h9.8M512.2 265.4v9.8M508.7 266.8l7.1 7.1M515.7 266.8l-7.1 7.1" stroke="#1a1a1a" stroke-width="1.5" fill="none"/></g>
<text x="528.1" y="275.6" class="lg">TRX−E−009−1 20<tspan class="mu">μ</tspan>M</text>
<rect x="243.7" y="536.6" width="32.3" height="141.9" fill="#333333"/>
<path d="M252 535.7H268M260 535.7V537.6" stroke="#1a1a1a" stroke-width="1.9" fill="none"/>
<rect x="292" y="561.1" width="32.3" height="117.4" fill="#a3a3a3"/>
<rect x="340.1" y="616" width="32.3" height="62.5" fill="#888888"/>
<path d="M348 614.2H363.8M355.9 614.2V617" stroke="#1a1a1a" stroke-width="1.9" fill="none"/>
<rect x="388.2" y="520.8" width="32.3" height="157.7" fill="#d4d4d4"/>
<path d="M396 515.3H412.2M404.1 515.3V521.8" stroke="#1a1a1a" stroke-width="1.9" fill="none"/>
<rect x="436.4" y="601" width="32.3" height="77.5" fill="#686868"/>
<path d="M444.2 599.5H460.2M452.2 599.5V602" stroke="#1a1a1a" stroke-width="1.9" fill="none"/>
<path d="M227.9 506.2V679.4M227 678.6H485.8" stroke="#1a1a1a" stroke-width="1.7" fill="none"/>
<path d="M223 507H228M223 564.1H228M223 621.3H228M223 678.5H228" stroke="#1a1a1a" stroke-width="1.5" fill="none"/>
<text x="220.6" y="511.6" text-anchor="end" class="bt">30000</text>
<text x="220.6" y="568.7" text-anchor="end" class="bt">20000</text>
<text x="220.6" y="625.9" text-anchor="end" class="bt">10000</text>
<text x="220.6" y="683.1" text-anchor="end" class="bt">0</text>
<path d="M259.8 679V683.6M308.1 679V683.6M356.2 679V683.6M404.3 679V683.6M452.5 679V683.6" stroke="#1a1a1a" stroke-width="1.5" fill="none"/>
<g fill="#1a1a1a"><polygon points="350.1,586.1 351.2,588.2 353.6,588.7 352,590.4 352.3,592.8 350.1,591.8 347.9,592.8 348.2,590.4 346.6,588.7 349,588.2"/><polygon points="356.7,586.1 357.8,588.2 360.2,588.7 358.6,590.4 358.9,592.8 356.7,591.8 354.5,592.8 354.8,590.4 353.2,588.7 355.6,588.2"/><polygon points="363.3,586.1 364.4,588.2 366.8,588.7 365.2,590.4 365.5,592.8 363.3,591.8 361.1,592.8 361.4,590.4 359.8,588.7 362.2,588.2"/><polygon points="446.2,581.7 447.4,583.8 449.8,584.3 448.1,586 448.4,588.4 446.2,587.4 444.1,588.4 444.4,586 442.7,584.3 445.1,583.8"/><polygon points="452.9,581.7 454,583.8 456.4,584.3 454.7,586 455,588.4 452.9,587.4 450.7,588.4 451,586 449.3,584.3 451.7,583.8"/><polygon points="459.4,581.7 460.6,583.8 463,584.3 461.3,586 461.6,588.4 459.4,587.4 457.3,588.4 457.6,586 455.9,584.3 458.3,583.8"/></g>
<text transform="translate(178 588.5) rotate(-90)" text-anchor="middle" class="bl">Adjusted Fluorescence</text>
<text transform="translate(265.5 698.8) rotate(-45)" text-anchor="end" class="xl">Vehicle</text>
<text transform="translate(313.8 698.8) rotate(-45)" text-anchor="end" class="xl">Nocodazole 10 <tspan class="bmu">μ</tspan>M</text>
<text transform="translate(361.9 698.8) rotate(-45)" text-anchor="end" class="xl">TRX-E-009-1 20 <tspan class="bmu">μ</tspan>M</text>
<text transform="translate(410 698.8) rotate(-45)" text-anchor="end" class="xl">TRX-E-009-2 20 <tspan class="bmu">μ</tspan>M</text>
<text transform="translate(458.2 698.8) rotate(-45)" text-anchor="end" class="xl">TRX-E-002-1 20 <tspan class="bmu">μ</tspan>M</text>
</svg>
</body></html>
